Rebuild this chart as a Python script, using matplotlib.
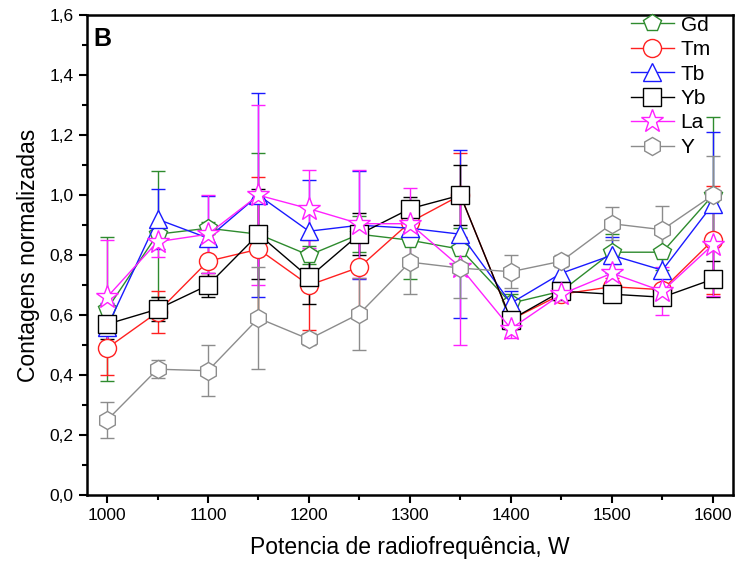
import matplotlib.pyplot as plt
from matplotlib.ticker import MultipleLocator, FuncFormatter

plt.rcParams['font.family'] = ['Liberation Sans', 'DejaVu Sans']

power = [1000, 1050, 1100, 1150, 1200, 1250, 1300, 1350, 1400, 1450, 1500, 1550, 1600]

gd = [0.62, 0.87, 0.89, 0.87, 0.80, 0.87, 0.85, 0.82, 0.64, 0.68, 0.81, 0.81, 1.00]
gd_err = [0.24, 0.21, 0.02, 0.27, 0.03, 0.06, 0.13, 0.07, 0.03, 0.03, 0.06, 0.06, 0.26]

tm = [0.49, 0.61, 0.78, 0.82, 0.70, 0.76, 0.91, 1.00, 0.585, 0.67, 0.695, 0.685, 0.85]
tm_err = [0.09, 0.07, 0.05, 0.24, 0.15, 0.14, 0.06, 0.14, 0.02, 0.02, 0.03, 0.02, 0.18]

tb = [0.56, 0.92, 0.857, 1.00, 0.88, 0.90, 0.89, 0.87, 0.64, 0.74, 0.80, 0.75, 0.97]
tb_err = [0.08, 0.10, 0.14, 0.34, 0.17, 0.18, 0.03, 0.28, 0.04, 0.03, 0.06, 0.07, 0.24]

yb = [0.57, 0.62, 0.70, 0.87, 0.726, 0.87, 0.955, 1.00, 0.585, 0.68, 0.67, 0.66, 0.72]
yb_err = [0.05, 0.04, 0.04, 0.15, 0.09, 0.07, 0.04, 0.10, 0.03, 0.03, 0.02, 0.02, 0.06]

la = [0.66, 0.845, 0.87, 1.00, 0.955, 0.905, 0.905, 0.76, 0.555, 0.67, 0.74, 0.68, 0.835]
la_err = [0.19, 0.05, 0.13, 0.30, 0.13, 0.18, 0.12, 0.26, 0.03, 0.02, 0.03, 0.08, 0.17]

y_el = [0.25, 0.42, 0.415, 0.59, 0.52, 0.605, 0.777, 0.757, 0.745, 0.78, 0.905, 0.885, 1.00]
y_err = [0.06, 0.03, 0.085, 0.17, 0.02, 0.12, 0.105, 0.10, 0.055, 0.02, 0.055, 0.08, 0.13]


def main():
    fig = plt.figure(figsize=(7.36, 5.64), dpi=100)
    ax = fig.add_axes([0.118, 0.122, 0.878, 0.851])

    series = [
        ('Gd', gd, gd_err, 'p', '#2e8b2e'),
        ('Tm', tm, tm_err, 'o', '#ff2020'),
        ('Tb', tb, tb_err, '^', '#1a1aff'),
        ('Yb', yb, yb_err, 's', 'black'),
        ('La', la, la_err, '*', '#ff20ff'),
        ('Y', y_el, y_err, 'h', '#8c8c8c'),
    ]

    for name, vals, err, mk, col in series:
        ms = 17 if mk == '*' else 13
        ax.errorbar(power, vals, yerr=err, color=col, marker=mk, ms=ms,
                    mfc='white', mec=col, mew=1.0, lw=1.0, elinewidth=1.0,
                    capsize=5, capthick=1.0, label=name)

    ax.set_xlim(980, 1620)
    ax.set_ylim(0, 1.6)
    ax.xaxis.set_major_locator(MultipleLocator(100))
    ax.xaxis.set_minor_locator(MultipleLocator(50))
    ax.yaxis.set_major_locator(MultipleLocator(0.2))
    ax.yaxis.set_minor_locator(MultipleLocator(0.1))
    ax.yaxis.set_major_formatter(FuncFormatter(lambda v, p: f'{v:.1f}'.replace('.', ',')))
    ax.tick_params(which='major', direction='out', length=6, width=1.5, labelsize=12.5)
    ax.tick_params(which='minor', direction='out', length=3.5, width=1.5)
    ax.tick_params(top=False, right=False, which='both')
    for s in ax.spines.values():
        s.set_linewidth(1.8)

    ax.set_xlabel('Potencia de radiofrequência, W', fontsize=16.5, labelpad=9)
    ax.set_ylabel('Contagens normalizadas', fontsize=16.5, labelpad=7)
    ax.text(0.01, 0.975, 'B', transform=ax.transAxes, fontsize=18,
            fontweight='bold', va='top', ha='left')

    handles, labels = ax.get_legend_handles_labels()
    handles = [h[0] for h in handles]
    ax.legend(handles, labels, loc='upper right', bbox_to_anchor=(0.985, 1.025),
              frameon=False, fontsize=15, handlelength=2.1, labelspacing=0.26,
              handletextpad=0.3, borderaxespad=0.2)

    plt.savefig('out.png', dpi=100)


if __name__ == '__main__':
    main()
